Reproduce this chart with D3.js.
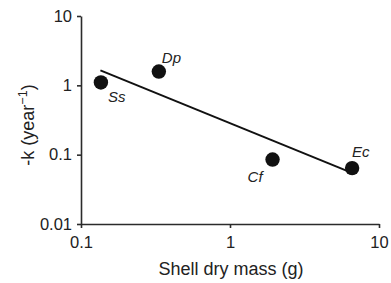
<!DOCTYPE html>
<html lang="en">
<head>
  <meta charset="UTF-8">
  <title>Decay rate vs shell dry mass</title>
  <script src="https://d3js.org/d3.v7.min.js"></script>
  <style>
    body { margin: 0; background: #fff; }
    svg { display: block; }
    .axis path, .axis line { stroke: #2b2b2b; stroke-width: 1.6px; }
    .axis text { font-family: "Liberation Sans", Arial, sans-serif; font-size: 16.5px; fill: #222; }
    .title { font-family: "Liberation Sans", Arial, sans-serif; font-size: 18px; fill: #222; }
    .lab { font-family: "Liberation Sans", Arial, sans-serif; font-size: 15px; font-style: italic; fill: #222; }
  </style>
</head>
<body>
<svg width="391" height="283" id="chart"></svg>

<script>
  // species, shell dry mass (g), -k (per year)
  const species = ['Ss', 'Dp', 'Cf', 'Ec'];
  const mass = [0.136, 0.333, 1.93, 6.6];
  const rate = [1.1, 1.58, 0.085, 0.064];

  // fitted line end points
  const fitMass = [0.135, 6.4];
  const fitRate = [1.64, 0.056];

  const xTicks = [0.1, 1, 10];
  const yTicks = [0.01, 0.1, 1, 10];

  const m = { top: 16, right: 12, bottom: 59, left: 81 };
  const W = 391, H = 283;

  const svg = d3.select('#chart');
  const x = d3.scaleLog().domain([0.1, 10]).range([m.left, W - m.right]);
  const y = d3.scaleLog().domain([0.01, 10]).range([H - m.bottom, m.top]);

  svg.append('g')
    .attr('class', 'axis')
    .attr('transform', `translate(0,${H - m.bottom})`)
    .call(d3.axisBottom(x).tickValues(xTicks).tickFormat(d => String(d))
      .tickSizeInner(4).tickSizeOuter(0).tickPadding(8));

  svg.append('g')
    .attr('class', 'axis')
    .attr('transform', `translate(${m.left},0)`)
    .call(d3.axisLeft(y).tickValues(yTicks).tickFormat(d => String(d))
      .tickSizeInner(4).tickSizeOuter(0).tickPadding(5));

  // regression line
  svg.append('line')
    .attr('x1', x(fitMass[0])).attr('y1', y(fitRate[0]))
    .attr('x2', x(fitMass[1])).attr('y2', y(fitRate[1]))
    .attr('stroke', '#111').attr('stroke-width', 2);

  const pts = species.map((s, i) => ({ s, m: mass[i], k: rate[i] }));

  svg.selectAll('.dot')
    .data(pts)
    .enter()
    .append('circle')
    .attr('class', 'dot')
    .attr('cx', d => x(d.m))
    .attr('cy', d => y(d.k))
    .attr('r', 7.2)
    .attr('fill', '#111');

  // label offsets relative to the dot
  const off = { Ss: [7, 20, 'start'], Dp: [3, -9, 'start'], Cf: [-10, 22, 'end'], Ec: [0, -11, 'start'] };
  svg.selectAll('.lab')
    .data(pts)
    .enter()
    .append('text')
    .attr('class', 'lab')
    .attr('x', d => x(d.m) + off[d.s][0])
    .attr('y', d => y(d.k) + off[d.s][1])
    .attr('text-anchor', d => off[d.s][2])
    .text(d => d.s);

  svg.append('text')
    .attr('class', 'title')
    .attr('x', 231).attr('y', 275)
    .attr('text-anchor', 'middle')
    .text('Shell dry mass (g)');

  const yt = svg.append('text')
    .attr('class', 'title')
    .attr('transform', 'translate(34,125) rotate(-90)')
    .attr('text-anchor', 'middle');
  yt.append('tspan').text('-k (year');
  yt.append('tspan').attr('dy', -7).attr('font-size', '12.5px').text('\u22121');
  yt.append('tspan').attr('dy', 7).text(')');
</script>
</body>
</html>
